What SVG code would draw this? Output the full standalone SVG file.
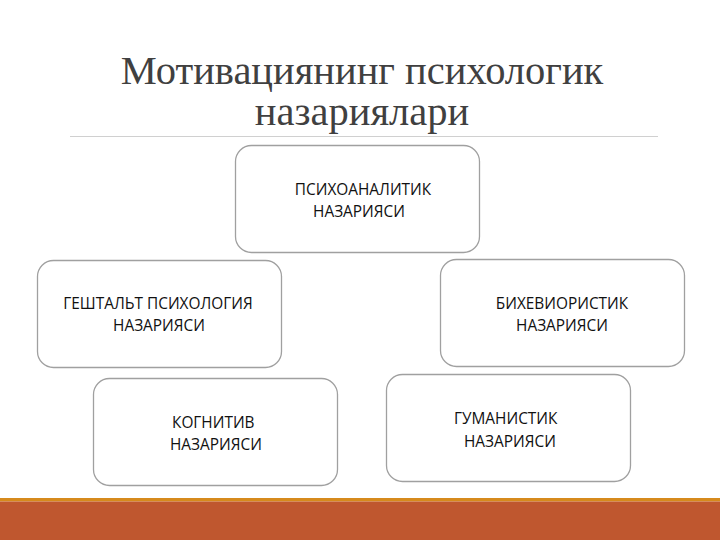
<svg xmlns="http://www.w3.org/2000/svg" width="720" height="540" viewBox="0 0 720 540">
<style>
.title{font-family:"Liberation Serif","Times New Roman",serif;font-size:40.5px;fill:#404040;text-anchor:middle}
.box{fill:#fff;stroke:#a0a0a0;stroke-width:1.3}
.lbl{font-family:"Open Sans","Noto Sans",sans-serif;font-size:15.4px;fill:#111}
.mid{text-anchor:middle}
</style>
<rect width="720" height="540" fill="#fff"/>
<text class="title" x="362" y="84">Мотивациянинг психологик</text>
<text class="title" x="362" y="125">назариялари</text>
<line x1="70" y1="136.5" x2="658" y2="136.5" stroke="#d0d0d0" stroke-width="1"/>
<g id="connectors"></g>
<g id="n1">
<rect class="box" x="235.5" y="145.5" width="244" height="107" rx="16"/>
<text class="lbl mid" x="363" y="195">ПСИХОАНАЛИТИК</text>
<text class="lbl mid" x="359" y="217">НАЗАРИЯСИ</text>
</g>
<g id="n2">
<rect class="box" x="37.5" y="260.5" width="244" height="107" rx="16"/>
<text class="lbl mid" x="158" y="309">ГЕШТАЛЬТ ПСИХОЛОГИЯ</text>
<text class="lbl mid" x="159" y="331">НАЗАРИЯСИ</text>
</g>
<g id="n3">
<rect class="box" x="440.5" y="259.5" width="244" height="107" rx="16"/>
<text class="lbl mid" x="562" y="309">БИХЕВИОРИСТИК</text>
<text class="lbl mid" x="562" y="331">НАЗАРИЯСИ</text>
</g>
<g id="n4">
<rect class="box" x="93.5" y="378.5" width="244" height="107" rx="16"/>
<text class="lbl" x="172" y="428">КОГНИТИВ</text>
<text class="lbl" x="170" y="450">НАЗАРИЯСИ</text>
</g>
<g id="n5">
<rect class="box" x="386.5" y="374.5" width="244" height="107" rx="16"/>
<text class="lbl" x="454" y="424">ГУМАНИСТИК</text>
<text class="lbl" x="464" y="447">НАЗАРИЯСИ</text>
</g>
<rect x="0" y="498" width="720" height="3.5" fill="#d68a1c"/>
<rect x="0" y="501.5" width="720" height="38.5" fill="#bf572f"/>
</svg>
